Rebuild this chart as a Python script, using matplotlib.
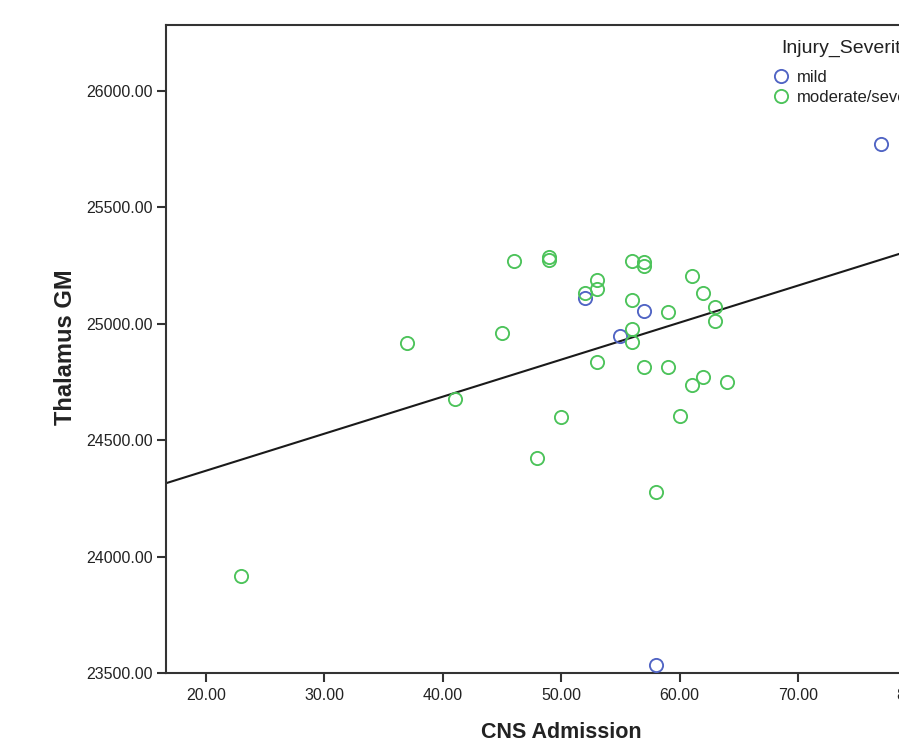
import numpy as np
import matplotlib
matplotlib.use("Agg")
import matplotlib.pyplot as plt
from matplotlib.lines import Line2D
from matplotlib.offsetbox import HPacker, DrawingArea

plt.rcParams['font.family'] = ['Liberation Sans', 'DejaVu Sans']

# ---- data ----
mild_x = [77, 52, 57, 55, 58]
mild_y = [25773, 25110, 25057, 24946, 23536]

mod_x = [23, 37, 41, 45, 46, 49, 49, 48, 50, 52, 53, 53, 53, 56, 56, 56, 56,
         57, 57, 57, 58, 59, 59, 60, 61, 61, 62, 62, 63, 63, 64]
mod_y = [23917, 24919, 24679, 24961, 25271, 25285, 25272, 24424, 24600, 25133,
         25186, 25150, 24834, 25268, 25103, 24979, 24921, 25267, 25250, 24816,
         24276, 25051, 24814, 24604, 25207, 24739, 25134, 24770, 25071, 25014,
         24750]

x_ticks = [20, 30, 40, 50, 60, 70, 80]
y_ticks = [23500, 24000, 24500, 25000, 25500, 26000]
x_label = "CNS Admission"
y_label = "Thalamus GM"
legend_title = "Injury_Severity"
group_labels = ["mild", "moderate/severe"]

blue = '#5064c4'
green = '#4cc35a'
spine_c = '#333333'
text_c = '#222222'

W, H = 899, 746
fig = plt.figure(figsize=(W / 100, H / 100), dpi=100)

xmin, xmax = 16.65, 82.0
px_per_unit = 11.85
left_px = 166
right_px = left_px + (xmax - xmin) * px_per_unit
bottom_px = 673.3
top_px = 25.3
ax_w = right_px - left_px
ax_h = bottom_px - top_px
ax = fig.add_axes([left_px / W, (H - bottom_px) / H, ax_w / W, ax_h / H])

ax.set_xlim(xmin, xmax)
ax.set_ylim(23500, 26281)

ms = 9.5
mew = 1.35
ax.plot(mild_x, mild_y, 'o', ms=ms, mfc='none', mec=blue, mew=mew, zorder=3)
ax.plot(mod_x, mod_y, 'o', ms=ms, mfc='none', mec=green, mew=mew, zorder=3)

# overall fit line
all_x = np.array(mild_x + mod_x, dtype=float)
all_y = np.array(mild_y + mod_y, dtype=float)
slope, intercept = np.polyfit(all_x, all_y, 1)
xl = np.array([xmin, xmax])
ax.plot(xl, intercept + slope * xl, color='#1a1a1a', lw=1.5, zorder=2)

ax.set_xticks(x_ticks)
ax.set_xticklabels([f"{v:.2f}" for v in x_ticks])
ax.set_yticks(y_ticks)
ax.set_yticklabels([f"{v:.2f}" for v in y_ticks])

for s in ['left', 'bottom', 'top', 'right']:
    ax.spines[s].set_color(spine_c)
    ax.spines[s].set_linewidth(1.5)

ax.tick_params(axis='both', direction='out', length=6.5, width=1.5,
               color=spine_c, labelsize=11.5, labelcolor=text_c)
ax.tick_params(axis='y', pad=3)
ax.tick_params(axis='x', pad=4)

ax.set_xlabel(x_label, fontsize=15.5, fontweight='bold', color=text_c, va='center')
ax.xaxis.set_label_coords((561.5 - left_px) / ax_w, (bottom_px - 733) / ax_h)
ax.set_ylabel(y_label, fontsize=17, fontweight='bold', color=text_c, va='center')
ax.yaxis.set_label_coords((66 - left_px) / ax_w, (bottom_px - 347) / ax_h)

handles = [Line2D([], [], ls='none', marker='o', ms=ms, mfc='none', mec=blue, mew=mew),
           Line2D([], [], ls='none', marker='o', ms=ms, mfc='none', mec=green, mew=mew)]
leg = fig.legend(handles, group_labels, title=legend_title, loc='upper left',
                 bbox_to_anchor=(773.5 / W, (H - 39.5) / H), frameon=False,
                 fontsize=12, title_fontsize=14, alignment='left',
                 handlelength=0.9, handletextpad=0.5, labelspacing=0.3,
                 borderpad=0, borderaxespad=0)
leg.get_title().set_color(text_c)
for t in leg.get_texts():
    t.set_color(text_c)
# indent the title slightly and widen the gap below it
title_row = HPacker(children=[DrawingArea(8 * 72 / 100, 0), leg._legend_title_box],
                    pad=0, sep=0)
leg._legend_box._children[0] = title_row
leg._legend_box.sep = 9.5

fig.savefig('out.png', dpi=100)
